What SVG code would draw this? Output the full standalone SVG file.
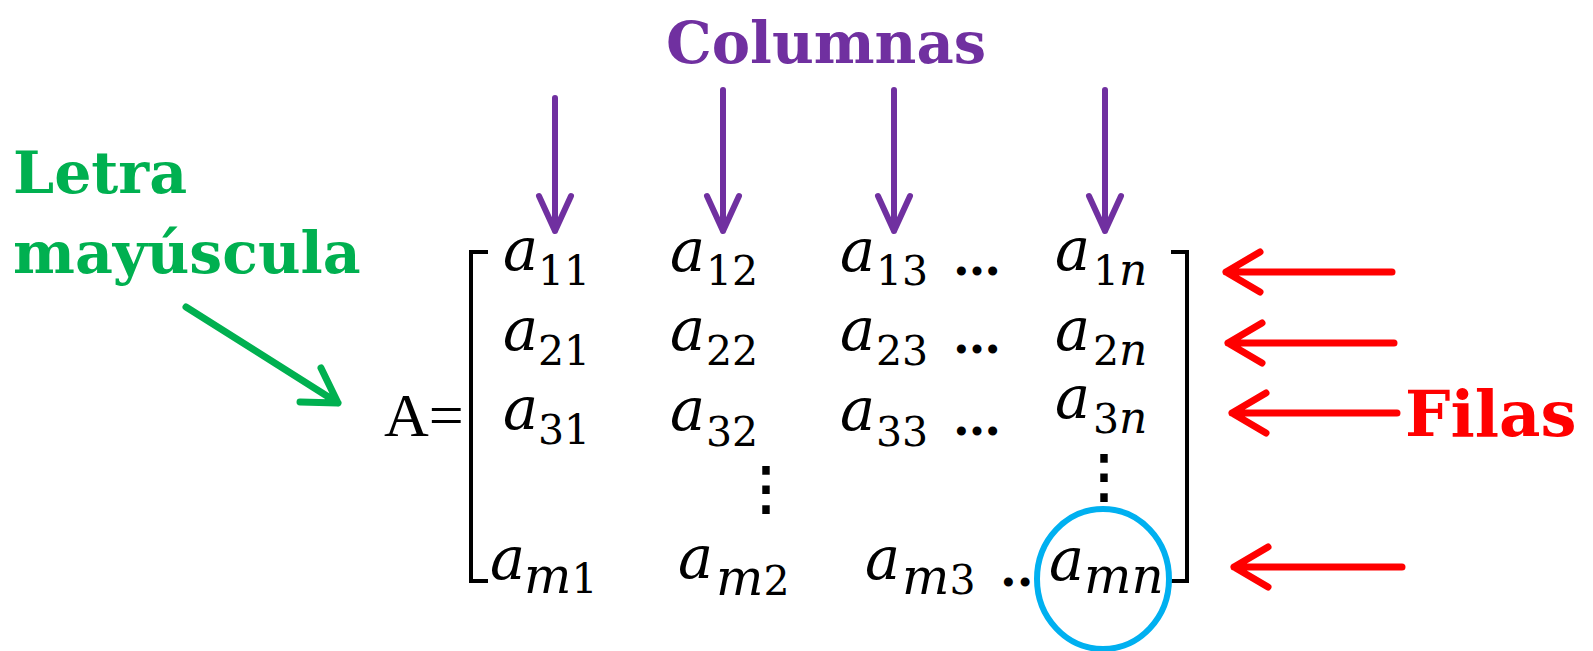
<svg xmlns="http://www.w3.org/2000/svg" width="1593" height="651" viewBox="0 0 1593 651">
<defs>
<style>
.lbl{font-family:"DejaVu Serif","Liberation Serif",serif;font-weight:bold}
.a{font-family:"DejaVu Serif","Liberation Serif",serif;font-style:italic;font-size:59px;fill:#000}
.s{font-family:"DejaVu Serif","Liberation Serif",serif;font-style:normal;font-size:41px;fill:#000}
.si{font-family:"DejaVu Serif","Liberation Serif",serif;font-style:italic;font-size:44px;fill:#000}
.sm{font-family:"DejaVu Serif","Liberation Serif",serif;font-style:italic;font-size:50px;fill:#000}
.dots{font-family:"DejaVu Serif",serif;font-size:48px;font-weight:bold;fill:#000}
.vd{font-family:"DejaVu Serif","DejaVu Sans",sans-serif;font-size:58px;fill:#000;stroke:#000;stroke-width:1.5}
.arr{fill:none;stroke-linecap:round;stroke-linejoin:round}
.pu{stroke:#7030A0;stroke-width:6}
.rd{stroke:#FF0000;stroke-width:7}
.gr{stroke:#00B050;stroke-width:7}
.br{fill:none;stroke:#000;stroke-width:4}
</style>
</defs>
<rect width="1593" height="651" fill="#fff"/>

<g id="label-columnas"><text class="lbl" x="666" y="63" font-size="57.5" fill="#7030A0">Columnas</text></g>
<g id="label-letra"><text class="lbl" x="13" y="193" font-size="58.5" fill="#00B050">Letra</text><text class="lbl" x="13" y="273" font-size="58.5" fill="#00B050">mayúscula</text></g>
<g id="label-filas"><text class="lbl" x="1405" y="436" font-size="64" fill="#FF0000">Filas</text></g>

<g id="matrix">
<text x="384" y="436" style="font-family:'Liberation Serif',serif;font-size:62px" fill="#000">A=</text>
<path class="br" d="M488,252 H471 V581 H488"/>
<path class="br" d="M1171,252 H1187 V581 H1171"/>

<!-- row 1 -->
<text class="a" x="503" y="270">a</text><text class="s" x="538" y="285">11</text>
<text class="a" x="670" y="271">a</text><text class="s" x="706" y="285">12</text>
<text class="a" x="840" y="271">a</text><text class="s" x="876" y="285">13</text>
<text class="dots" x="953" y="275">…</text>
<text class="a" x="1055" y="270">a</text><text x="1093" y="285"><tspan class="s">1</tspan><tspan class="si">n</tspan></text>
<!-- row 2 -->
<text class="a" x="503" y="350">a</text><text class="s" x="538" y="365">21</text>
<text class="a" x="670" y="350">a</text><text class="s" x="706" y="365">22</text>
<text class="a" x="840" y="350">a</text><text class="s" x="876" y="365">23</text>
<text class="dots" x="953" y="353">…</text>
<text class="a" x="1055" y="350">a</text><text x="1093" y="365"><tspan class="s">2</tspan><tspan class="si">n</tspan></text>
<!-- row 3 -->
<text class="a" x="503" y="429">a</text><text class="s" x="538" y="444">31</text>
<text class="a" x="670" y="430">a</text><text class="s" x="706" y="446">32</text>
<text class="a" x="840" y="430">a</text><text class="s" x="876" y="446">33</text>
<text class="dots" x="953" y="435">…</text>
<text class="a" x="1055" y="418">a</text><text x="1093" y="433"><tspan class="s">3</tspan><tspan class="si">n</tspan></text>
<!-- vertical dots -->
<text class="vd" x="737" y="508">⋮</text>
<text class="vd" x="1075" y="496">⋮</text>
<!-- row m -->
<text class="a" x="490" y="579">a</text><text x="524" y="593"><tspan class="sm">m</tspan><tspan class="s">1</tspan></text>
<text class="a" x="678" y="578">a</text><text x="716" y="595"><tspan class="sm">m</tspan><tspan class="s">2</tspan></text>
<text class="a" x="865" y="579">a</text><text x="902" y="594"><tspan class="sm">m</tspan><tspan class="s">3</tspan></text>
<text class="dots" x="1000" y="586">..</text>
<text class="a" x="1049" y="580">a</text><text x="1084" y="593"><tspan class="sm">mn</tspan></text>
</g>

<g id="highlight-amn"><ellipse cx="1103" cy="579" rx="66" ry="70" fill="none" stroke="#00B0F0" stroke-width="6"/></g>

<g id="connectors">
<path class="arr pu" d="M555,98 V231 M539,196 L555,231 L571,196"/>
<path class="arr pu" d="M723,90 V231 M707,196 L723,231 L739,196"/>
<path class="arr pu" d="M894,90 V231 M878,196 L894,231 L910,196"/>
<path class="arr pu" d="M1105,90 V231 M1089,196 L1105,231 L1121,196"/>
<path class="arr rd" d="M1392,272 H1226 M1260,252 L1226,272 L1260,292"/>
<path class="arr rd" d="M1394,343 H1228 M1262,323 L1228,343 L1262,363"/>
<path class="arr rd" d="M1397,413 H1232 M1266,393 L1232,413 L1266,433"/>
<path class="arr rd" d="M1402,567 H1234 M1268,547 L1234,567 L1268,587"/>
<path class="arr gr" d="M186,307 L338,403 M300,402 L338,403 L321,368"/>
</g>
</svg>
